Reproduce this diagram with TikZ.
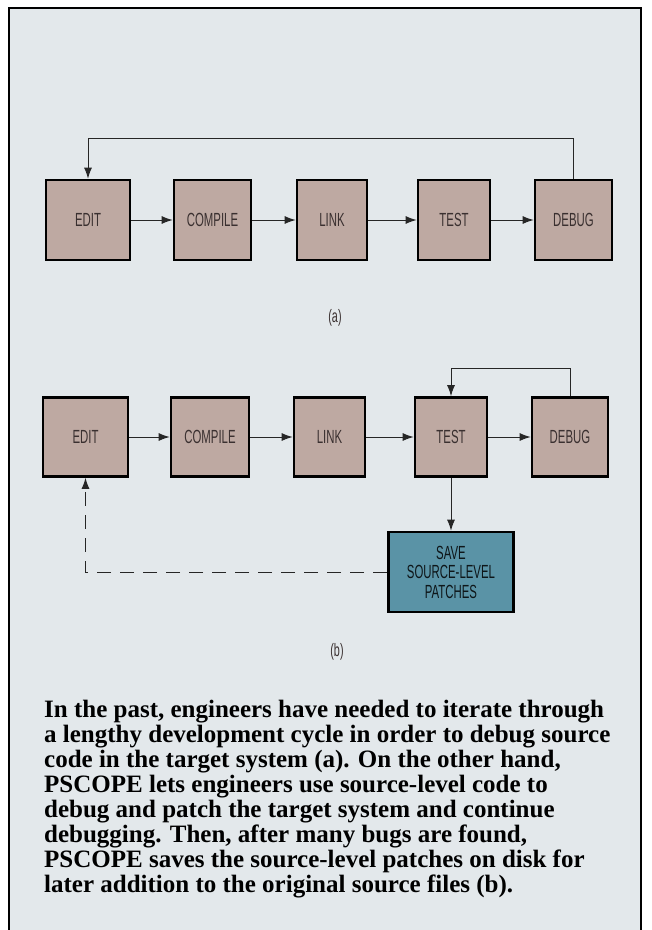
\documentclass[tikz,border=0pt]{standalone}
\usepackage{fontspec}
\setmainfont{Liberation Serif}
\newfontfamily\boxfont[FakeStretch=0.6]{Liberation Sans}
\usetikzlibrary{arrows.meta}
\definecolor{bgc}{HTML}{E3E8EB}
\definecolor{tan}{HTML}{BEA9A2}
\definecolor{teal}{HTML}{5A93A6}
\definecolor{lbl}{HTML}{3A3030}
\tikzset{
  stepbox/.style={draw=black, line width=2.6pt, fill=tan, text=lbl,
    font=\boxfont\fontsize{19}{19.5}\selectfont, inner sep=0pt, align=center},
  savebox/.style={stepbox, fill=teal, text=black!85!teal},
  conn/.style={draw=black!85, line width=1pt, -{Latex[length=11pt,width=8pt]}},
  sub/.style={font=\boxfont\fontsize{18}{19}\selectfont, text=lbl}
}
\begin{document}
\begin{tikzpicture}[x=1pt,y=-1pt]
\useasboundingbox (0,0) rectangle (652,930);
\fill[white] (0,0) rectangle (652,930);
\fill[bgc] (9,8) rectangle (641,930);
\draw[line width=2pt] (9,930) -- (9,8) -- (641,8) -- (641,930);

% (a)
\node[stepbox, minimum width=84pt, minimum height=80pt] (ae) at (88,220) {EDIT};
\node[stepbox, minimum width=77pt, minimum height=80pt] (ac) at (212.5,220) {COMPILE};
\node[stepbox, minimum width=70pt, minimum height=80pt] (al) at (332,220) {LINK};
\node[stepbox, minimum width=72pt, minimum height=80pt] (at) at (454,220) {TEST};
\node[stepbox, minimum width=77pt, minimum height=80pt] (ad) at (573.5,220) {DEBUG};
\draw[conn] (ae) -- (ac);
\draw[conn] (ac) -- (al);
\draw[conn] (al) -- (at);
\draw[conn] (at) -- (ad);
\draw[conn] (ad.north) -- ++(0,-40) -| (ae.north);
\node[sub] (la) at (335,318) {(a)};

% (b)
\node[stepbox, minimum width=85pt, minimum height=79pt] (be) at (85.5,437) {EDIT};
\node[stepbox, minimum width=78pt, minimum height=79pt] (bc) at (210,437) {COMPILE};
\node[stepbox, minimum width=71pt, minimum height=79pt] (bl) at (329.5,437) {LINK};
\node[stepbox, minimum width=72pt, minimum height=79pt] (bt) at (451,437) {TEST};
\node[stepbox, minimum width=76pt, minimum height=79pt] (bd) at (570,437) {DEBUG};
\node[savebox, minimum width=125pt, minimum height=80pt] (bs) at (451,572) {SAVE\\SOURCE-LEVEL\\PATCHES};
\draw[conn] (be) -- (bc);
\draw[conn] (bc) -- (bl);
\draw[conn] (bl) -- (bt);
\draw[conn] (bt) -- (bd);
\draw[conn] (bd.north) -- ++(0,-28) -| (bt.north);
\draw[conn] (bt) -- (bs);
\draw[conn, dash pattern=on 14pt off 9pt] (bs.west) -| (be.south);
\node[sub] (lb) at (337,652) {(b)};

% caption
\node[anchor=north west, align=left, inner sep=0pt,
  font=\bfseries\fontsize{25}{25}\selectfont] (cap) at (44,700) {%
In the past, engineers have needed to iterate through\\
a lengthy development cycle in order to debug source\\
code in the target system (a). On the other hand,\\
PSCOPE lets engineers use source-level code to\\
debug and patch the target system and continue\\
debugging. Then, after many bugs are found,\\
PSCOPE saves the source-level patches on disk for\\
later addition to the original source files (b).};
\end{tikzpicture}
\end{document}
